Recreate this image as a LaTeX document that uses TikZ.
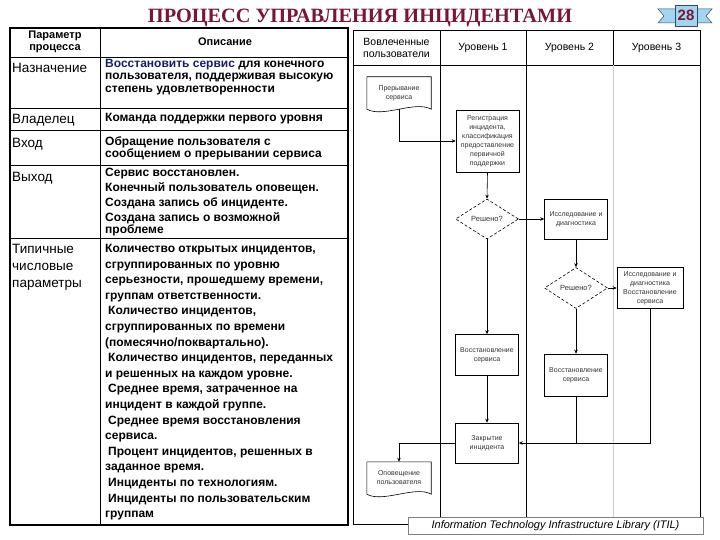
\documentclass[tikz,border=0pt]{standalone}
\usepackage{fontspec}
\setmainfont{Liberation Serif}
\newfontfamily\arial{Liberation Sans}
\usetikzlibrary{shapes.geometric,arrows.meta}
\definecolor{titlered}{HTML}{7A1538}
\definecolor{navytext}{HTML}{1B1B6B}
\definecolor{ribbonblue}{HTML}{A3D5EE}
\definecolor{ribbonedge}{HTML}{2A4A78}
\begin{document}
\begin{tikzpicture}[x=1pt,y=-1pt,
  lbl/.style={anchor=north west,inner sep=0pt,align=left,font=\arial\fontsize{13.5}{17}\selectfont},
  desc/.style={anchor=north west,inner sep=0pt,align=left,font=\arial\bfseries\fontsize{12}{12.5}\selectfont},
  hdr/.style={inner sep=0pt,align=center,font=\arial\bfseries\fontsize{11}{11.5}\selectfont},
  lanehdr/.style={inner sep=0pt,align=center,font=\arial\fontsize{10.5}{12}\selectfont},
  fbox/.style={draw,line width=0.6pt,minimum width=63pt,minimum height=40pt,inner sep=1pt,align=center,
    font=\arial\fontsize{7}{9}\selectfont,text=black!80},
  dec/.style={diamond,draw,densely dashed,line width=0.6pt,minimum width=63pt,minimum height=40pt,inner sep=0pt,
    aspect=1.6,align=center,font=\arial\fontsize{7.5}{9}\selectfont,text=black!80},
  docsh/.style={minimum width=64pt,minimum height=32pt,inner sep=1pt,align=center,
    font=\arial\fontsize{7}{9}\selectfont,text=black!80},
  flow/.style={-{Stealth[length=4pt,width=3.5pt]},line width=0.6pt},
  plain/.style={line width=0.6pt}]
\useasboundingbox (0,0) rectangle (720,540);

% title
\node[text=titlered,font=\bfseries\fontsize{20.3}{24}\selectfont,inner sep=0pt] (title) at (360,18) {ПРОЦЕСС УПРАВЛЕНИЯ ИНЦИДЕНТАМИ};

% badge
\draw[fill=ribbonblue,draw=ribbonedge,line width=0.5pt] (658,9) -- (677,9) -- (677,23) -- (658,23) -- (664,16) -- cycle;
\draw[fill=ribbonblue,draw=ribbonedge,line width=0.5pt] (712,9) -- (695,9) -- (695,23) -- (712,23) -- (706,16) -- cycle;
\node[draw=ribbonedge,fill=ribbonblue,line width=0.8pt,minimum width=22pt,minimum height=21pt,inner sep=0pt,
  text=titlered,font=\arial\bfseries\fontsize{15}{15}\selectfont] (badge) at (686,15.5) {28};

% ---------- table ----------
\foreach \yy in {57,108,130,165,238} \draw[line width=0.8pt] (10,\yy) -- (348,\yy);
\draw[line width=0.8pt] (100,28) -- (100,525);
\draw[line width=1.6pt] (10,28) rectangle (348,525);

\node[hdr] (h1) at (55,42) {Параметр\\процесса};
\node[hdr] (h2) at (225,42) {Описание};

\node[lbl] (p1) at (12,63) {Назначение};
\node[lbl] (p2) at (12,114) {Владелец};
\node[lbl] (p3) at (12,138) {Вход};
\node[lbl] (p4) at (12,172) {Выход};
\node[lbl] (p5) at (12,244) {Типичные\\числовые\\параметры};

\node[desc] (d1) at (105,59) {{\color{navytext}Восстановить сервис} для конечного\\пользователя, поддерживая высокую\\степень удовлетворенности};
\node[desc] (d2) at (105,113) {Команда поддержки первого уровня};
\node[desc,font=\arial\bfseries\fontsize{12}{11.5}\selectfont] (d3) at (105,137) {Обращение пользователя с\\сообщением о прерывании сервиса};
\node[desc,font=\arial\bfseries\fontsize{12}{11.5}\selectfont] (d4) at (105,168) {Сервис восстановлен.\\[3.5pt]Конечный пользователь оповещен.\\[3.5pt]Создана запись об инциденте.\\[3.5pt]Создана запись о возможной\\проблеме};
\node[desc,font=\arial\bfseries\fontsize{12}{15.6}\selectfont] (d5) at (105,244) {Количество открытых инцидентов,\\сгруппированных по уровню\\серьезности, прошедшему времени,\\группам ответственности.\\\hspace{3pt}Количество инцидентов,\\сгруппированных по времени\\(помесячно/поквартально).\\\hspace{3pt}Количество инцидентов, переданных\\и решенных на каждом уровне.\\\hspace{3pt}Среднее время, затраченное на\\инцидент в каждой группе.\\\hspace{3pt}Среднее время восстановления\\сервиса.\\\hspace{3pt}Процент инцидентов, решенных в\\заданное время.\\\hspace{3pt}Инциденты по технологиям.\\\hspace{3pt}Инциденты по пользовательским\\группам};

% ---------- swimlane frame ----------
\draw[line width=0.8pt] (353,65) -- (700,65);
\draw[line width=0.8pt] (440,30) -- (440,524);
\draw[line width=0.8pt] (526,30) -- (526,524);
\draw[line width=0.8pt] (613,30) -- (613,65);
\draw[line width=0.6pt,black!20] (613,65) -- (613,524);
\draw[line width=0.8pt] (353,30) rectangle (700,524);

\node[lanehdr] (l0) at (396.5,48) {Вовлеченные\\пользователи};
\node[lanehdr] (l1) at (483,48) {Уровень 1};
\node[lanehdr] (l2) at (569.5,48) {Уровень 2};
\node[lanehdr] (l3) at (656.5,48) {Уровень 3};

% ---------- flow elements ----------
\node[docsh] (doc1) at (399,93) {Прерывание\\сервиса};
\draw[plain] (doc1.south west) -- (doc1.north west) -- (doc1.north east) -- (doc1.south east)
  .. controls +(-16,-9) and +(16,9) .. (doc1.south west);

\node[fbox,minimum height=62pt] (reg) at (487.5,141) {Регистрация\\инцидента,\\классификация\\предоставление\\первичной\\поддержки};
\node[dec] (dec1) at (487,219) {Решено?};
\node[fbox] (inv2) at (576,219) {Исследование и\\диагностика};
\node[dec,minimum height=41pt] (dec2) at (576,288) {Решено?};
\node[fbox,minimum width=66pt,minimum height=41pt] (inv3) at (650,288) {Исследование и\\диагностика\\Восстановление\\сервиса};
\node[fbox,minimum height=41pt] (rest1) at (487,355) {Восстановление\\сервиса};
\node[fbox,minimum height=42pt] (rest2) at (576,375) {Восстановление\\сервиса};
\node[fbox] (close) at (487,443) {Закрытие\\инцидента};

\node[docsh] (doc2) at (399,478) {Оповещение\\пользователя};
\draw[plain] (doc2.south west) -- (doc2.north west) -- (doc2.north east) -- (doc2.south east)
  .. controls +(-16,-9) and +(16,9) .. (doc2.south west);

% connectors
\draw[flow] (doc1.south) |- (reg.west);
\draw[flow] (reg.south) -- (dec1.north);
\draw[flow] (dec1.east) -- (inv2.west);
\draw[flow] (inv2.south) -- (dec2.north);
\draw[flow] (dec2.east) -- (inv3.west);
\draw[flow] (dec1.south) -- (rest1.north);
\draw[flow] (dec2.south) -- (rest2.north);
\draw[flow] (rest1.south) -- (close.north);
\draw[flow] (inv3.south) |- (close.east);
\draw[plain] (rest2.south) -- (rest2.south |- close.east);
\draw[flow] (close.west) -| (doc2.north);

% footer
\node[draw=black!50,fill=white,line width=0.6pt,minimum width=295pt,minimum height=17pt,inner sep=0pt,
  font=\arial\itshape\fontsize{11}{12}\selectfont] (itil) at (555.5,525.5) {Information Technology Infrastructure Library (ITIL)};
\end{tikzpicture}
\end{document}
